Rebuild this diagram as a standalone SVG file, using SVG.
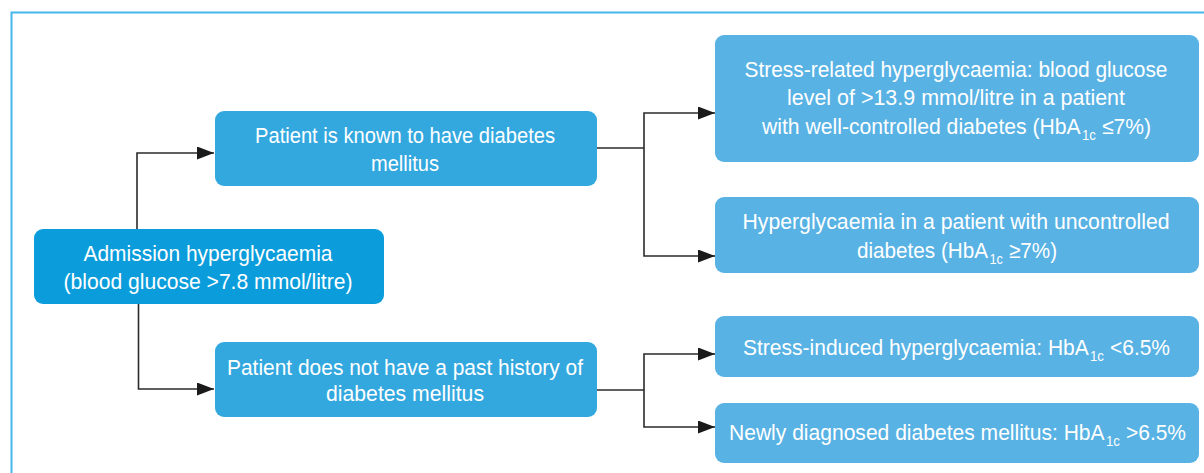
<svg xmlns="http://www.w3.org/2000/svg" width="1204" height="473" viewBox="0 0 1204 473">
<defs>
<style>
.frame{fill:none;stroke:#48b6e8;stroke-width:2}
.n0{fill:#0b9ddb}
.n1{fill:#33a8df}
.n2{fill:#58b2e4}
.t{font-family:"Liberation Sans",Arial,sans-serif;font-size:22px;fill:#ffffff;text-anchor:middle}
.ts{font-family:"Liberation Sans",Arial,sans-serif;font-size:22px;fill:#ffffff;text-anchor:start}
.sub{font-size:14px}
.c{fill:none;stroke:#2b2b2b;stroke-width:1.6}
</style>
<marker id="ah" markerUnits="userSpaceOnUse" markerWidth="18" markerHeight="13" refX="17" refY="6.5" orient="auto">
<path d="M0,0 L17,6.5 L0,13 z" fill="#1a1a1a"/>
</marker>
</defs>
<rect width="1204" height="473" fill="#ffffff"/>
<rect class="frame" x="11.5" y="12.5" width="1260" height="520"/>

<g id="connectors">
<path class="c" d="M137,229 V153 H214" marker-end="url(#ah)"/>
<path class="c" d="M138.5,304 V389 H214" marker-end="url(#ah)"/>
<path class="c" d="M597,148 H644"/>
<path class="c" d="M644,148 V113 H715" marker-end="url(#ah)"/>
<path class="c" d="M644,148 V256 H715" marker-end="url(#ah)"/>
<path class="c" d="M597,390 H644"/>
<path class="c" d="M644,390 V354 H715" marker-end="url(#ah)"/>
<path class="c" d="M644,390 V427 H715" marker-end="url(#ah)"/>
</g>

<g id="admission">
<rect class="n0" x="34" y="229" width="350" height="75" rx="9"/>
<text class="t" x="208" y="261" textLength="249" lengthAdjust="spacingAndGlyphs">Admission hyperglycaemia</text>
<text class="t" x="208" y="289" textLength="289" lengthAdjust="spacingAndGlyphs">(blood glucose &gt;7.8 mmol/litre)</text>
</g>

<g id="known">
<rect class="n1" x="215" y="111" width="382" height="75" rx="9"/>
<text class="t" x="405" y="143" textLength="300" lengthAdjust="spacingAndGlyphs">Patient is known to have diabetes</text>
<text class="t" x="405" y="171" textLength="68" lengthAdjust="spacingAndGlyphs">mellitus</text>
</g>

<g id="notknown">
<rect class="n1" x="215" y="342" width="382" height="75" rx="9"/>
<text class="t" x="405" y="375" textLength="356" lengthAdjust="spacingAndGlyphs">Patient does not have a past history of</text>
<text class="t" x="405" y="401" textLength="158" lengthAdjust="spacingAndGlyphs">diabetes mellitus</text>
</g>

<g id="stressrelated">
<rect class="n2" x="715" y="35" width="484" height="127" rx="9"/>
<text class="t" x="956" y="77" textLength="423" lengthAdjust="spacingAndGlyphs">Stress-related hyperglycaemia: blood glucose</text>
<text class="t" x="956" y="105" textLength="338" lengthAdjust="spacingAndGlyphs">level of &gt;13.9 mmol/litre in a patient</text>
<text class="ts" x="762" y="134" textLength="318.7" lengthAdjust="spacingAndGlyphs">with well-controlled diabetes (HbA</text>
<text class="ts sub" x="1082" y="140" textLength="14" lengthAdjust="spacingAndGlyphs">1c</text>
<text class="ts" x="1102" y="134" textLength="49" lengthAdjust="spacingAndGlyphs">≤7%)</text>
</g>

<g id="uncontrolled">
<rect class="n2" x="715" y="197" width="484" height="76" rx="9"/>
<text class="t" x="956" y="229" textLength="427" lengthAdjust="spacingAndGlyphs">Hyperglycaemia in a patient with uncontrolled</text>
<text class="ts" x="857" y="258" textLength="131" lengthAdjust="spacingAndGlyphs">diabetes (HbA</text>
<text class="ts sub" x="989.5" y="264" textLength="13.5" lengthAdjust="spacingAndGlyphs">1c</text>
<text class="ts" x="1009" y="258" textLength="48" lengthAdjust="spacingAndGlyphs">≥7%)</text>
</g>

<g id="stressinduced">
<rect class="n2" x="715" y="316" width="484" height="61" rx="9"/>
<text class="ts" x="743" y="355" textLength="345.8" lengthAdjust="spacingAndGlyphs">Stress-induced hyperglycaemia: HbA</text>
<text class="ts sub" x="1090" y="361" textLength="14" lengthAdjust="spacingAndGlyphs">1c</text>
<text class="ts" x="1110" y="355" textLength="60" lengthAdjust="spacingAndGlyphs">&lt;6.5%</text>
</g>

<g id="newlydiagnosed">
<rect class="n2" x="715" y="403" width="484" height="60" rx="9"/>
<text class="ts" x="729" y="440" textLength="375.6" lengthAdjust="spacingAndGlyphs">Newly diagnosed diabetes mellitus: HbA</text>
<text class="ts sub" x="1106" y="446" textLength="14" lengthAdjust="spacingAndGlyphs">1c</text>
<text class="ts" x="1126" y="440" textLength="60" lengthAdjust="spacingAndGlyphs">&gt;6.5%</text>
</g>
</svg>
